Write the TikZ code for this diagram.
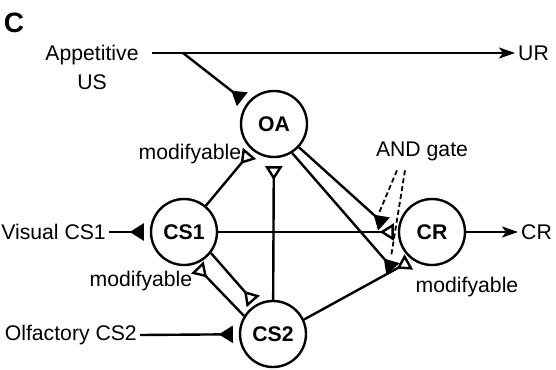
\documentclass[tikz,border=0pt]{standalone}
\usepackage{fontspec}
\setmainfont{Liberation Sans}
\usepackage{tikz}
\usetikzlibrary{
  arrows.meta,
  calc
}
\tikzset{
  cell/.style={
    draw, circle, line width=1.2pt, minimum size=33pt, inner sep=0pt,
    font=\fontsize{10.6}{12.5}\selectfont\bfseries
  },
  io text/.style={
    inner sep=1pt
  },
  fixed synapse/.style={
    -{Triangle[reversed,length=7pt,width=8.5pt]}, shorten >=3pt
  },
  plastic synapse/.style={
    -{Triangle[reversed,open,length=7pt,width=8.5pt]}, shorten >=2pt
  },
  output/.style={
    -{Stealth[length=8pt,width=5.5pt,inset=2pt]}
  },
  gate pointer/.style={
    dash pattern=on 2.5pt off 1.5pt, line width=0.9pt
  }
}

\begin{document}
\begin{tikzpicture}[x=0.5pt, y=-0.5pt, line width=1.2pt,
  font=\fontsize{10.6}{12.5}\selectfont]
\useasboundingbox (0,0) rectangle (556,369);
% cells
\node[cell] (oa) at (274,124) {OA};
\node[cell] (cs1) at (184,232) {CS1};
\node[cell] (cs2) at (273,334) {CS2};
\node[cell] (cr) at (432,232) {CR};
% inputs, outputs, labels
\node[font=\fontsize{14}{16}\selectfont\bfseries] (panel) at (14,23) {C};
\node[align=center, font=\fontsize{10.6}{14.5}\selectfont] (usIn) at (92,67) {Appetitive\\US};
\node[io text, anchor=west] (ur) at (515,53) {UR};
\node[io text, anchor=east] (visIn) at (109,232) {Visual CS1};
\node[io text, anchor=east] (olfIn) at (140,335) {Olfactory CS2};
\node[io text, anchor=west] (crOut) at (518,232) {CR};
\node (andGate) at (422,151) {AND gate};
\node (modOA) at (190,154) {modifyable};
\node (modCS) at (141,281) {modifyable};
\node (modCR) at (467,287) {modifyable};
\coordinate (usStart) at (152,53);
\coordinate (usBranch) at (183,53);
\coordinate (gateA) at (384,224);
\coordinate (gateB) at (393,269);
\coordinate (dashA) at (379,213);
\coordinate (dashB) at (391,257);

% US pathway
\draw[output] (usStart) -- (ur.west);
\draw[fixed synapse] (usBranch) -- (oa);
% CS inputs
\draw[fixed synapse] (visIn.east) -- (cs1);
\draw[fixed synapse] (olfIn.east) -- (cs2);
% modifyable connections
\draw[plastic synapse] (cs1) -- (oa);
\draw[plastic synapse, shorten >=4pt] (cs2) -- (oa);
\draw[plastic synapse] (cs1.-38) -- (cs2.120);
\draw[plastic synapse] (cs2.148) -- (cs1.-72);
\draw[plastic synapse] (cs1) -- (cr);
\draw[plastic synapse] (cs2.25) -- (cr.-125);
% OA gating
\draw[fixed synapse, shorten >=0pt] (oa.-43) -- (gateA);
\draw[fixed synapse, shorten >=0pt] (oa.-58) -- (gateB);
\draw[gate pointer] ($(andGate.south)+(-25,2)$) -- (dashA);
\draw[gate pointer] ($(andGate.south)+(-17,2)$) -- (dashB);
% response
\draw[output] (cr) -- (crOut.west);
\end{tikzpicture}
\end{document}
